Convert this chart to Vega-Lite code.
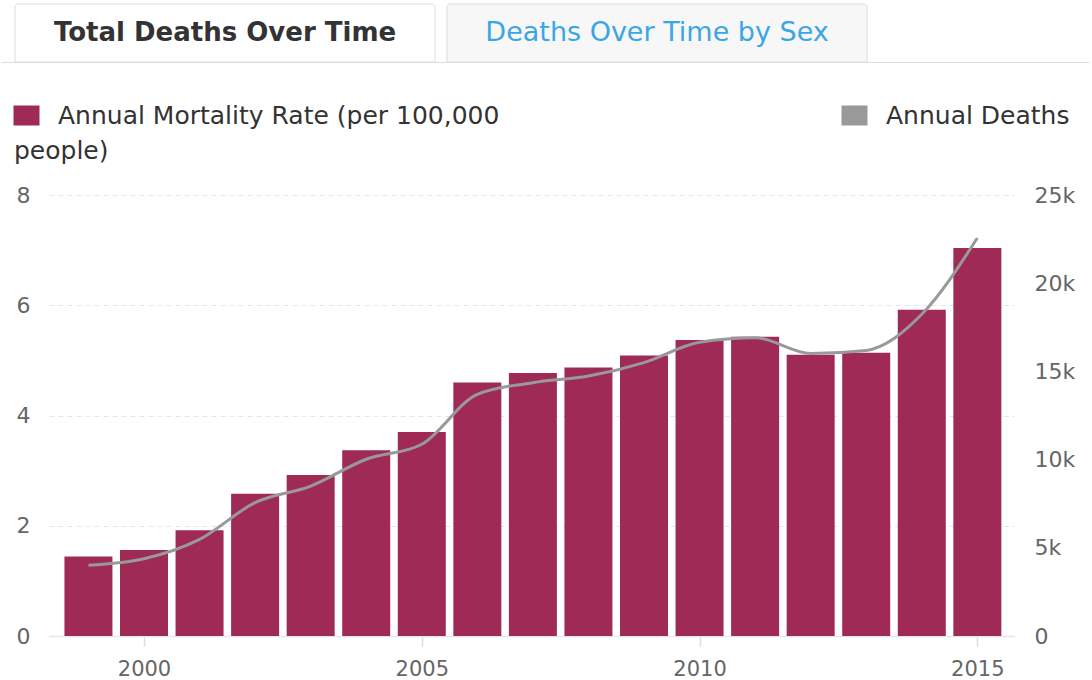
{
  "$schema": "https://vega.github.io/schema/vega-lite/v6.json",
  "background": "#ffffff",
  "padding": {"left": 14, "top": 3, "right": 0, "bottom": 0},
  "spacing": 40,
  "config": {"view": {"stroke": null}, "font": "DejaVu Sans"},
  "resolve": {
    "scale": {"fill": "independent", "stroke": "independent"},
    "legend": {"fill": "independent", "stroke": "independent"}
  },
  "vconcat": [
    {
      "width": 965,
      "height": 58,
      "data": {"values": [
        {"tab": "Total Deaths Over Time", "active": true},
        {"tab": "Deaths Over Time by Sex", "active": false}
      ]},
      "encoding": {
        "x": {
          "field": "tab", "type": "nominal", "sort": null,
          "scale": {"domain": ["Total Deaths Over Time", "Deaths Over Time by Sex"], "range": [-48, 1040], "paddingInner": 0.0278, "paddingOuter": 0.273, "align": 0.0593},
          "axis": {"labels": false, "ticks": false, "title": null, "grid": false, "domainColor": "#dddddd", "domainWidth": 1}
        }
      },
      "layer": [
        {"transform": [{"filter": "datum.active"}], "mark": {"type": "rect", "fill": "#ffffff", "stroke": "#dddddd", "strokeWidth": 1, "cornerRadiusTopLeft": 3, "cornerRadiusTopRight": 3}},
        {"transform": [{"filter": "!datum.active"}], "mark": {"type": "rect", "fill": "#f7f7f7", "stroke": "#dddddd", "strokeWidth": 1, "cornerRadiusTopLeft": 3, "cornerRadiusTopRight": 3}},
        {"transform": [{"filter": "datum.active"}], "mark": {"type": "text", "font": "DejaVu Sans", "fontSize": 26, "fontWeight": "bold", "fill": "#333333"}, "encoding": {"text": {"field": "tab"}}},
        {"transform": [{"filter": "!datum.active"}], "mark": {"type": "text", "font": "DejaVu Sans", "fontSize": 27, "fill": "#3aa6e6"}, "encoding": {"text": {"field": "tab"}}}
      ]
    },
    {
      "width": 965,
      "height": 441,
      "data": {"values": [
        {"year": 1999, "rate": 1.44, "deaths": 4010},
        {"year": 2000, "rate": 1.56, "deaths": 4380},
        {"year": 2001, "rate": 1.92, "deaths": 5480},
        {"year": 2002, "rate": 2.58, "deaths": 7560},
        {"year": 2003, "rate": 2.92, "deaths": 8500},
        {"year": 2004, "rate": 3.37, "deaths": 10020},
        {"year": 2005, "rate": 3.70, "deaths": 10870},
        {"year": 2006, "rate": 4.60, "deaths": 13700},
        {"year": 2007, "rate": 4.77, "deaths": 14360},
        {"year": 2008, "rate": 4.87, "deaths": 14740},
        {"year": 2009, "rate": 5.09, "deaths": 15500},
        {"year": 2010, "rate": 5.37, "deaths": 16650},
        {"year": 2011, "rate": 5.43, "deaths": 16910},
        {"year": 2012, "rate": 5.10, "deaths": 16020},
        {"year": 2013, "rate": 5.14, "deaths": 16190},
        {"year": 2014, "rate": 5.92, "deaths": 18240},
        {"year": 2015, "rate": 7.04, "deaths": 22560}
      ]},
      "encoding": {
        "x": {
          "field": "year", "type": "quantitative",
          "scale": {"domain": [1998.38, 2015.57], "nice": false, "zero": false},
          "axis": {"values": [2000, 2005, 2010, 2015], "format": "d", "title": null, "grid": false, "labelFontSize": 21, "labelColor": "#666666", "labelPadding": 12, "tickSize": 10, "tickColor": "#dddddd", "tickWidth": 1.5, "domainColor": "#e6e6e6", "domainWidth": 1.5, "labelFlush": false}
        }
      },
      "layer": [
        {
          "mark": {"type": "bar", "width": 48},
          "encoding": {
            "y": {
              "field": "rate", "type": "quantitative",
              "scale": {"domain": [0, 8], "nice": false},
              "axis": {"values": [0, 2, 4, 6, 8], "title": null, "orient": "left", "domain": false, "ticks": false, "tickSize": 0, "labelPadding": 19, "labelFontSize": 22, "labelColor": "#666666", "grid": true, "gridColor": "#e6e6e6", "gridDash": [5, 4], "gridWidth": 1}
            },
            "fill": {
              "datum": "Annual Mortality Rate (per 100,000 people)",
              "scale": {"range": ["#a02a56"]},
              "legend": {
                "orient": "none", "legendX": -35, "legendY": -92, "padding": 0,
                "title": "people)", "titleOrient": "bottom", "titleAnchor": "start", "titleFontSize": 25, "titleFontWeight": "normal", "titleColor": "#333333", "titlePadding": 10,
                "symbolType": "M-1.3,-1H1.3V1H-1.3Z", "symbolSize": 400, "symbolStrokeWidth": 0,
                "labelFontSize": 25, "labelColor": "#333333", "labelOffset": 19, "labelLimit": 1000, "labelBaseline": "middle",
                "labelExpr": "'Annual Mortality Rate (per 100,000'"
              }
            }
          }
        },
        {
          "mark": {"type": "line", "interpolate": "monotone", "strokeWidth": 3},
          "encoding": {
            "y": {
              "field": "deaths", "type": "quantitative",
              "scale": {"domain": [0, 25000], "nice": false},
              "axis": {"values": [0, 5000, 10000, 15000, 20000, 25000], "title": null, "orient": "right", "domain": false, "ticks": false, "tickSize": 0, "labelPadding": 20, "labelFontSize": 22, "labelColor": "#666666", "grid": false, "labelExpr": "datum.value == 0 ? '0' : (datum.value / 1000) + 'k'"}
            },
            "stroke": {
              "datum": "Annual Deaths",
              "scale": {"range": ["#999999"]},
              "legend": {
                "orient": "none", "legendX": 793, "legendY": -92, "title": null, "padding": 0,
                "symbolType": "M-1.3,-1H1.3V1H-1.3Z", "symbolSize": 400, "symbolStrokeWidth": 0,
                "labelFontSize": 25, "labelColor": "#333333", "labelOffset": 19, "labelLimit": 1000, "labelBaseline": "middle",
                "encode": {"symbols": {"update": {"fill": {"value": "#999999"}, "stroke": {"value": "transparent"}}}}
              }
            }
          }
        }
      ],
      "resolve": {"scale": {"y": "independent"}}
    }
  ]
}
